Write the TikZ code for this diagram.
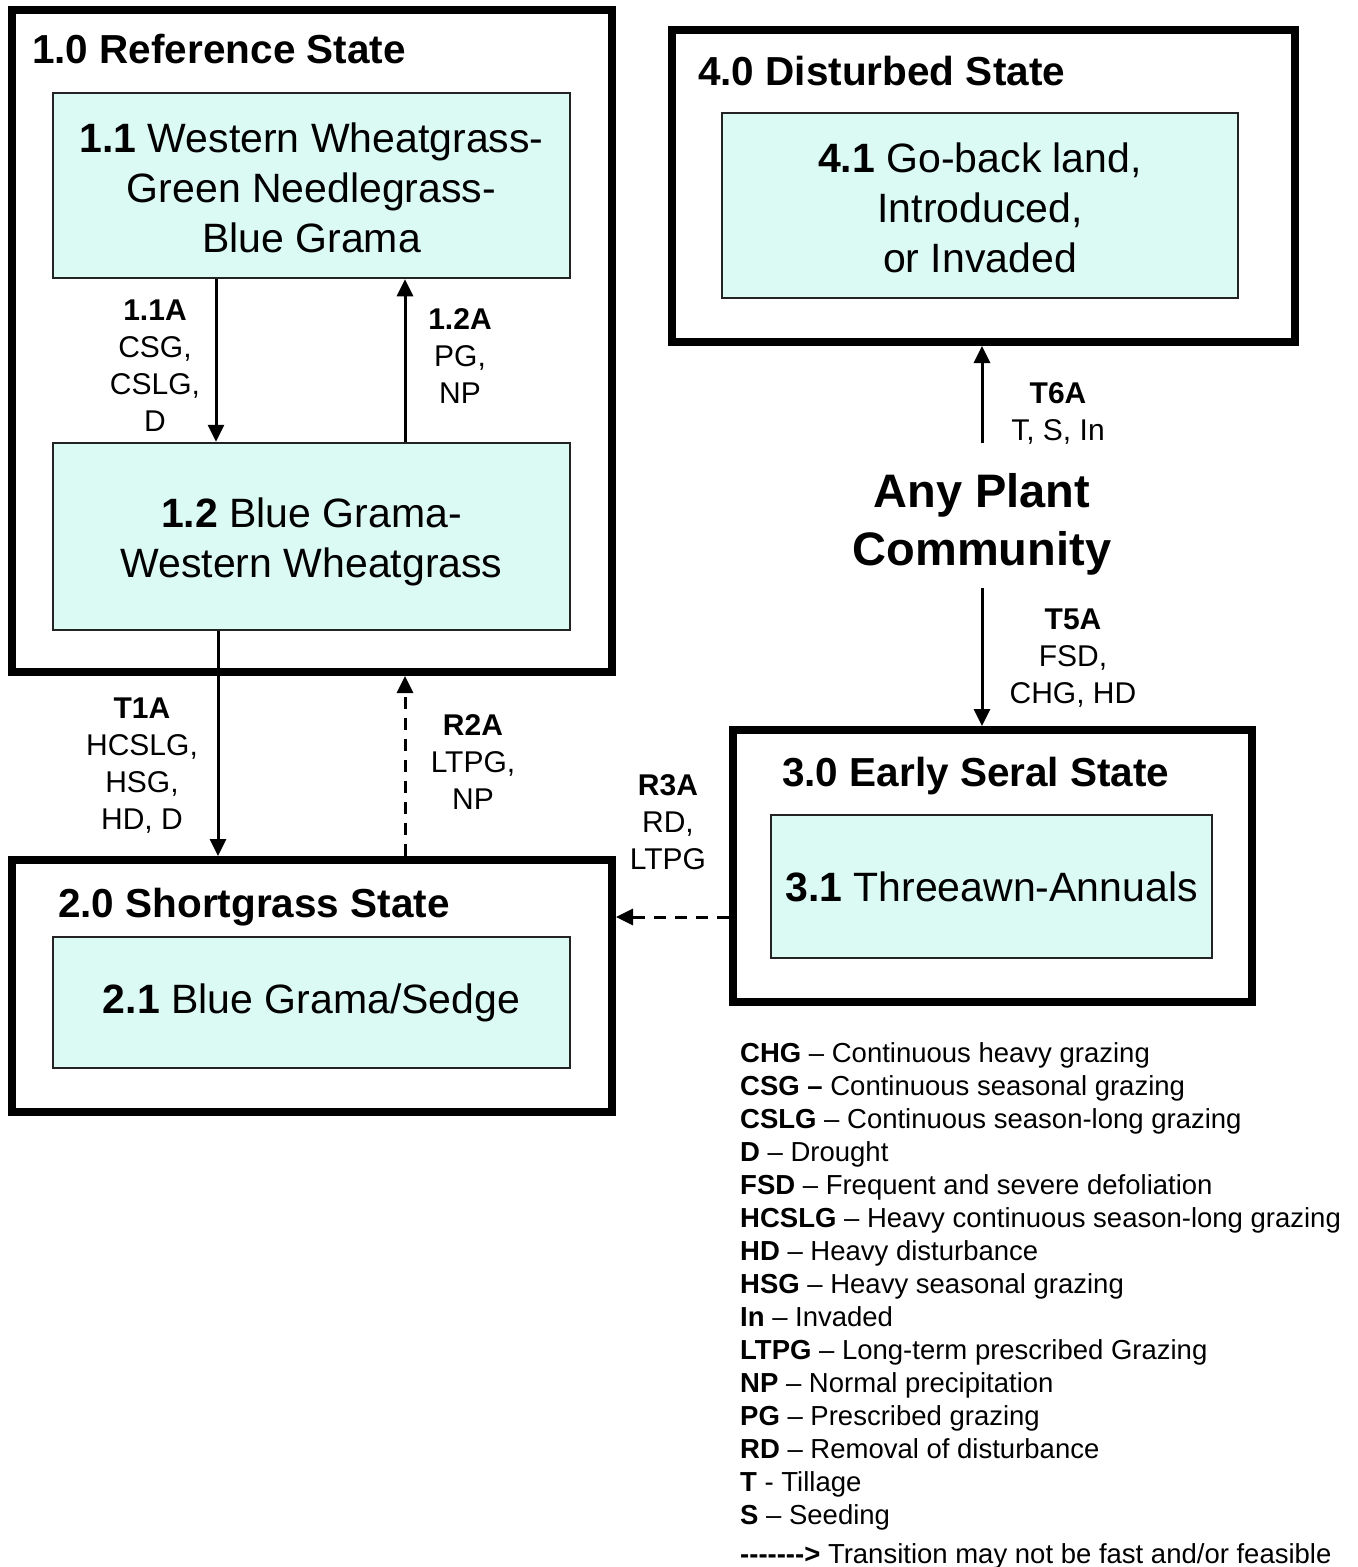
\documentclass[tikz,border=0pt]{standalone}
\usepackage{fontspec}
\setmainfont{Liberation Sans}
\usetikzlibrary{arrows.meta}
\definecolor{paleaqua}{RGB}{220,250,244}
\definecolor{inkgray}{RGB}{35,35,35}

\tikzset{
	sz/.style 2 args = {minimum width = #1pt, minimum height = #2pt},
	statebox/.style = {draw, line width = 8pt, inner sep = 0pt},
	commbox/.style = {draw = inkgray, line width = 2.5pt, fill = paleaqua, inner sep = 0pt, align = center, font = \fontsize{41}{50}\selectfont},
	title/.style = {anchor = base west, inner sep = 0pt, font = \fontsize{40.5}{48}\selectfont\bfseries},
	lbl/.style = {anchor = north, inner sep = 0pt, align = center, font = \fontsize{30}{37}\selectfont},
	arr/.style = {line width = 3pt, -{Triangle[length = 17pt, width = 16pt]}},
	dasharr/.style = {arr, dash pattern = on 12pt off 9pt}
}

\begin{document}
\begin{tikzpicture}[x = 1pt, y = -1pt]
	\useasboundingbox (0,0) rectangle (1358,1567);
	% states
	\node[statebox, sz = {600}{662}] (s1) at (312,341) {};
	\node[statebox, sz = {600}{252}] (s2) at (312,986) {};
	\node[statebox, sz = {519}{272}] (s3) at (992.5,866) {};
	\node[statebox, sz = {623}{312}] (s4) at (983.5,186) {};
	\node[title] (t1) at (32,63) {1.0 Reference State};
	\node[title] (t2) at (58,917) {2.0 Shortgrass State};
	\node[title] (t3) at (782,786) {3.0 Early Seral State};
	\node[title] (t4) at (698,85) {4.0 Disturbed State};
	% plant communities
	\node[commbox, sz = {517}{185}] (c11) at (311.5,185.5) {\rule{0pt}{34pt}\textbf{1.1} Western Wheatgrass-\\Green Needlegrass-\\Blue Grama};
	\node[commbox, sz = {517}{187}] (c12) at (311.5,536.5) {\rule{0pt}{40pt}\textbf{1.2} Blue Grama-\\Western Wheatgrass};
	\node[commbox, sz = {517}{131}] (c21) at (311.5,1002.5) {\textbf{2.1} Blue Grama/Sedge};
	\node[commbox, sz = {441}{143}] (c31) at (991.5,886.5) {\textbf{3.1} Threeawn-Annuals};
	\node[commbox, sz = {516}{185}] (c41) at (980,205.5) {\rule{0pt}{34pt}\textbf{4.1} Go-back land,\\Introduced,\\or Invaded};
	\node[anchor = north, inner sep = 0pt, align = center, font = \fontsize{47}{58}\selectfont\bfseries] (apc) at (982,473) {Any Plant\\Community};
	% transitions
	\draw[arr] ([xshift = -95.5pt]c11.south) -- ([xshift = -95.5pt]c12.north);
	\draw[arr] ([xshift = 93.5pt]c12.north) -- ([xshift = 93.5pt]c11.south);
	\draw[arr] ([xshift = -93.5pt]c12.south) -- ([xshift = -94pt]s2.north);
	\draw[dasharr] ([xshift = 93pt]s2.north) -- ([xshift = 93pt]s1.south);
	\coordinate (r3) at ([yshift = -51pt]s3.west);
	\draw[dasharr] (r3) -- (r3 -| s2.east);
	\coordinate (t6) at (982,443);
	\draw[arr] (t6) -- (t6 |- s4.south);
	\coordinate (t5) at (982,588);
	\draw[arr] (t5) -- (t5 |- s3.north);
	% labels
	\node[lbl] (l11a) at (155,300) {\textbf{1.1A}\\CSG,\\CSLG,\\D};
	\node[lbl] (l12a) at (460,308) {\textbf{1.2A}\\PG,\\NP};
	\node[lbl] (lt1a) at (142,698) {\textbf{T1A}\\HCSLG,\\HSG,\\HD, D};
	\node[lbl] (lr2a) at (473,714) {\textbf{R2A}\\LTPG,\\NP};
	\node[lbl] (lr3a) at (668,774) {\textbf{R3A}\\RD,\\LTPG};
	\node[lbl] (lt6a) at (1058,382) {\textbf{T6A}\\T, S, In};
	\node[lbl] (lt5a) at (1073,609) {\textbf{T5A}\\FSD,\\CHG, HD};
	% legend
	\node[anchor = north west, inner sep = 0pt, align = left, font = \fontsize{27.5}{33}\selectfont] (key) at (740,1042) {%
		\textbf{CHG} -- Continuous heavy grazing\\
		\textbf{CSG --} Continuous seasonal grazing\\
		\textbf{CSLG} -- Continuous season-long grazing\\
		\textbf{D} -- Drought\\
		\textbf{FSD} -- Frequent and severe defoliation\\
		\textbf{HCSLG} -- Heavy continuous season-long grazing\\
		\textbf{HD} -- Heavy disturbance\\
		\textbf{HSG} -- Heavy seasonal grazing\\
		\textbf{In} -- Invaded\\
		\textbf{LTPG} -- Long-term prescribed Grazing\\
		\textbf{NP} -- Normal precipitation\\
		\textbf{PG} -- Prescribed grazing\\
		\textbf{RD} -- Removal of disturbance\\
		\textbf{T} - Tillage\\
		\textbf{S} -- Seeding\\[6pt]
		\textbf{-{}-{}-{}-{}-{}-{}-{}>} Transition may not be fast and/or feasible};
\end{tikzpicture}
\end{document}
